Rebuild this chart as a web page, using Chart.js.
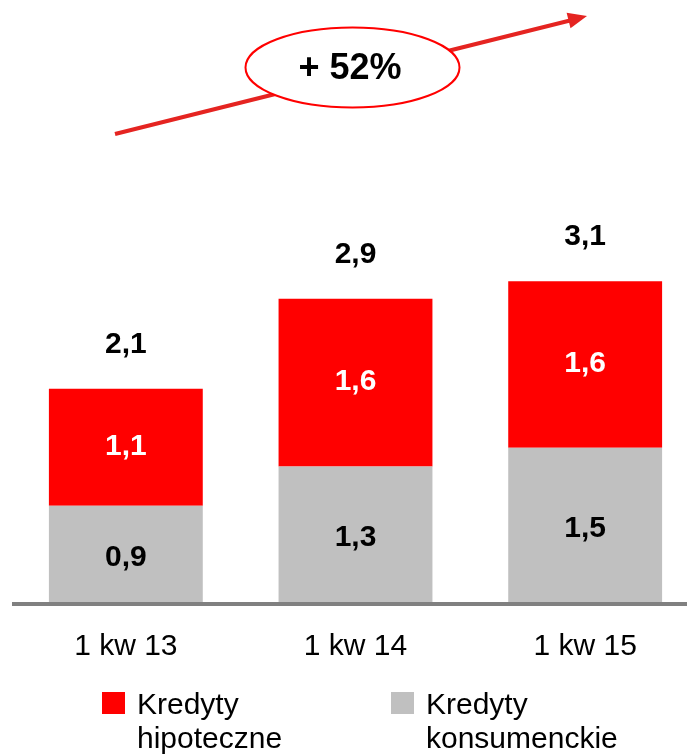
<!DOCTYPE html>
<html>
<head>
<meta charset="utf-8">
<script src="https://cdn.jsdelivr.net/npm/chart.js@4"></script>
<style>
  html, body { margin: 0; padding: 0; background: #fff; overflow: hidden; }
  #wrap { width: 687px; height: 754px; overflow: hidden; }
</style>
</head>
<body>
<div id="wrap"><canvas id="kredytyChart" width="700" height="754"></canvas></div>
<script>
var categories = ["1 kw 13", "1 kw 14", "1 kw 15"];
var konsumenckie = [0.93, 1.31, 1.49];
var hipoteczne = [1.13, 1.62, 1.61];
var seriesNames = [["Kredyty", "konsumenckie"], ["Kredyty", "hipoteczne"]];
var growthLabel = "+ 52%";

var FONT = "'Liberation Sans', Arial, sans-serif";

function fmt(v) {
    return v.toFixed(1).replace(".", ",");
}

// value labels inside the bars + totals above + base line
var labelsPlugin = {
    id: "labels",
    afterDatasetsDraw: function (chart) {
        var ctx = chart.ctx;
        var area = chart.chartArea;
        ctx.save();
        ctx.fillStyle = "#808080";
        ctx.fillRect(area.left + 1, area.bottom, chart.width, 4);

        ctx.textAlign = "center";
        ctx.textBaseline = "middle";
        ctx.font = "bold 30px " + FONT;
        chart.data.datasets.forEach(function (ds, di) {
            var meta = chart.getDatasetMeta(di);
            meta.data.forEach(function (bar, i) {
                ctx.fillStyle = di === 0 ? "#000" : "#fff";
                var off = di === 0 ? 4 : -1;
                ctx.fillText(fmt(ds.data[i]), bar.x, (bar.y + bar.base) / 2 + off);
            });
        });
        var top = chart.getDatasetMeta(1).data;
        ctx.fillStyle = "#000";
        top.forEach(function (bar, i) {
            var total = konsumenckie[i] + hipoteczne[i];
            ctx.fillText(fmt(total), bar.x, bar.y - 44);
        });
        ctx.restore();
    }
};

// legend with two-line names
var legendPlugin = {
    id: "twoLineLegend",
    afterDraw: function (chart) {
        var ctx = chart.ctx;
        var order = [1, 0];
        var xs = [102, 391];
        ctx.save();
        ctx.font = "30px " + FONT;
        ctx.textAlign = "left";
        ctx.textBaseline = "alphabetic";
        order.forEach(function (di, k) {
            var ds = chart.data.datasets[di];
            ctx.fillStyle = ds.backgroundColor;
            ctx.fillRect(xs[k], 692, 23, 22);
            ctx.fillStyle = "#000";
            ds.label.forEach(function (line, j) {
                ctx.fillText(line, xs[k] + 35, 714 + j * 34);
            });
        });
        ctx.restore();
    }
};

// growth arrow with ellipse
var growthPlugin = {
    id: "growth",
    afterDraw: function (chart) {
        var ctx = chart.ctx;
        ctx.save();
        ctx.strokeStyle = "#e52421";
        ctx.fillStyle = "#e52421";
        ctx.lineWidth = 4;
        ctx.beginPath();
        ctx.moveTo(115, 134);
        ctx.lineTo(572, 20);
        ctx.stroke();
        var ang = Math.atan2(16 - 134, 587 - 115);
        ctx.translate(587, 16);
        ctx.rotate(ang);
        ctx.beginPath();
        ctx.moveTo(0, 0);
        ctx.lineTo(-19, -8);
        ctx.lineTo(-19, 8);
        ctx.closePath();
        ctx.fill();
        ctx.restore();

        ctx.save();
        ctx.beginPath();
        ctx.ellipse(352.5, 67.5, 107, 40, 0, 0, Math.PI * 2);
        ctx.fillStyle = "#fff";
        ctx.fill();
        ctx.lineWidth = 2;
        ctx.strokeStyle = "#ff0000";
        ctx.stroke();
        ctx.fillStyle = "#000";
        ctx.font = "bold 36px " + FONT;
        ctx.textAlign = "center";
        ctx.textBaseline = "middle";
        ctx.fillText(growthLabel, 350, 69);
        ctx.restore();
    }
};

let chartCanvas = document.getElementById("kredytyChart").getContext("2d");
let kredytyChart = new Chart(chartCanvas, {
    type: "bar",
    data: {
        labels: categories,
        datasets: [{
            label: seriesNames[0],
            data: konsumenckie,
            backgroundColor: "#c0c0c0",
            barPercentage: 0.67,
            categoryPercentage: 1.0
        }, {
            label: seriesNames[1],
            data: hipoteczne,
            backgroundColor: "#ff0000",
            barPercentage: 0.67,
            categoryPercentage: 1.0
        }]
    },
    options: {
        responsive: false,
        animation: false,
        layout: {
            padding: { left: 11, right: 0, top: 188, bottom: 62 }
        },
        plugins: {
            legend: { display: false },
            tooltip: { enabled: false }
        },
        scales: {
            x: {
                stacked: true,
                grid: { display: false, drawTicks: false },
                border: { display: false },
                ticks: {
                    color: "#000",
                    padding: 27,
                    font: { family: FONT, size: 30 }
                }
            },
            y: {
                stacked: true,
                display: false,
                min: 0,
                max: 4
            }
        }
    },
    plugins: [labelsPlugin, legendPlugin, growthPlugin]
});
</script>
</body>
</html>
